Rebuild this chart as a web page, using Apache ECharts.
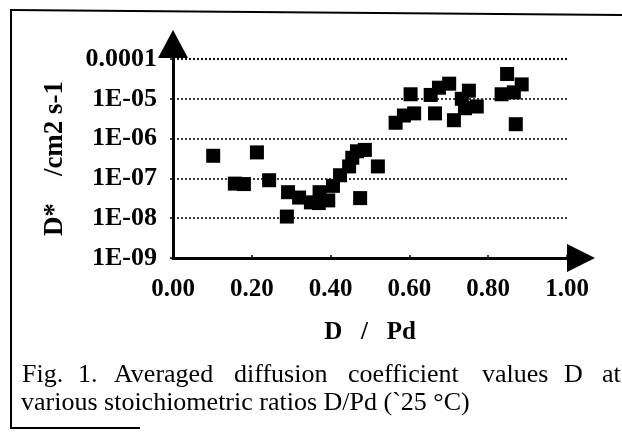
<!DOCTYPE html>
<html>
<head>
<meta charset="utf-8">
<script src="https://cdn.jsdelivr.net/npm/echarts@6/dist/echarts.min.js"></script>
<style>
html,body{margin:0;padding:0;background:#fff;}
#chart{width:622px;height:432px;}
</style>
</head>
<body>
<div id="chart"></div>
<script>
// D/Pd ratio (x) and diffusion coefficient D* in cm2 s-1 (y)
const ratioD = [0.102,0.157,0.180,0.213,0.244,0.289,0.292,0.320,0.350,0.370,0.372,0.394,0.406,0.424,0.447,0.455,0.467,0.487,0.475,0.520,
                0.565,0.586,0.612,0.603,0.665,0.654,0.675,0.701,0.751,0.733,0.771,0.713,0.741,0.848,0.885,0.834,0.865,0.870];
const diffCoef = [3.7e-7,7.4e-8,7.2e-8,4.5e-7,9.0e-8,1.1e-8,4.5e-8,3.3e-8,2.5e-8,2.4e-8,4.5e-8,2.8e-8,6.5e-8,1.2e-7,2.0e-7,3.3e-7,4.8e-7,5.2e-7,3.2e-8,2.0e-7,
                  2.5e-6,3.8e-6,4.3e-6,1.3e-5,4.3e-6,1.25e-5,1.9e-5,2.4e-5,1.6e-5,1.0e-5,6.4e-6,2.9e-6,5.8e-6,4.2e-5,2.3e-5,1.3e-5,1.45e-5,2.3e-6];
const xTickLabels = ['0.00','0.20','0.40','0.60','0.80','1.00'];
const yTickLabels = ['1E-09','1E-08','1E-07','1E-06','1E-05','0.0001'];
const xAxisTitle = 'D   /   Pd';
const yAxisTitle = 'D*    /cm2 s-1';
const captionLine1Words = ['Fig.','1.','Averaged','diffusion','coefficient','values','D','at'];
const captionLine2 = 'various stoichiometric ratios D/Pd (`25 °C)';

const points = ratioD.map((x, i) => [x, diffCoef[i]]);
const serif = '"Liberation Serif", "Times New Roman", serif';
const wordX = [22, 78, 114, 234, 348, 482, 564, 602];

const chart = echarts.init(document.getElementById('chart'), null, {renderer: 'canvas'});
const graphics = [
  {type: 'line', shape: {x1: 10, y1: 10, x2: 622, y2: 15}, style: {stroke: '#000', lineWidth: 2}},
  {type: 'line', shape: {x1: 11, y1: 10, x2: 11, y2: 428}, style: {stroke: '#000', lineWidth: 2}},
  {type: 'line', shape: {x1: 10, y1: 428, x2: 140, y2: 428}, style: {stroke: '#000', lineWidth: 2}},
  {type: 'text', left: 21, top: 390, style: {text: captionLine2, font: '26px ' + serif, fill: '#000'}}
];
captionLine1Words.forEach((w, i) => {
  graphics.push({type: 'text', x: wordX[i], y: 362, style: {text: w, font: '26px ' + serif, fill: '#000'}});
});

chart.setOption({
  animation: false,
  backgroundColor: '#fff',
  grid: {left: 173, right: 55, top: 59, bottom: 174, containLabel: false, outerBoundsMode: 'none'},
  xAxis: {
    type: 'value', min: 0, max: 1, interval: 0.2,
    name: xAxisTitle, nameLocation: 'middle', nameGap: 62,
    nameTextStyle: {fontFamily: serif, fontWeight: 'bold', fontSize: 25, color: '#000'},
    axisLine: {show: true, lineStyle: {color: '#000', width: 3}, symbol: ['none', 'triangle'], symbolSize: [28, 28], symbolOffset: [0, 14]},
    axisTick: {show: true, inside: true, length: 3, lineStyle: {color: '#000', width: 1.5}},
    splitLine: {show: false},
    axisLabel: {margin: 19, fontFamily: serif, fontWeight: 'bold', fontSize: 25, color: '#000',
      formatter: v => xTickLabels[Math.round(v / 0.2)]}
  },
  yAxis: {
    type: 'log', logBase: 10, min: 1e-9, max: 1e-4,
    name: yAxisTitle, nameLocation: 'middle', nameGap: 104,
    nameTextStyle: {fontFamily: serif, fontWeight: 'bold', fontSize: 27, color: '#000'},
    axisLine: {show: true, lineStyle: {color: '#000', width: 3}, symbol: ['none', 'triangle'], symbolSize: [30, 28], symbolOffset: [0, 15]},
    axisTick: {show: true, length: 3, lineStyle: {color: '#000', width: 1.5}},
    splitLine: {show: true, lineStyle: {color: '#000', width: 1.5, type: [2, 2]}},
    axisLabel: {margin: 16, fontFamily: serif, fontWeight: 'bold', fontSize: 26, color: '#000',
      formatter: v => yTickLabels[Math.round(Math.log10(v)) + 9]}
  },
  series: [{
    type: 'scatter', data: points, symbol: 'rect', symbolSize: 14,
    itemStyle: {color: '#000', opacity: 1}
  }],
  graphic: graphics
});
</script>
</body>
</html>
